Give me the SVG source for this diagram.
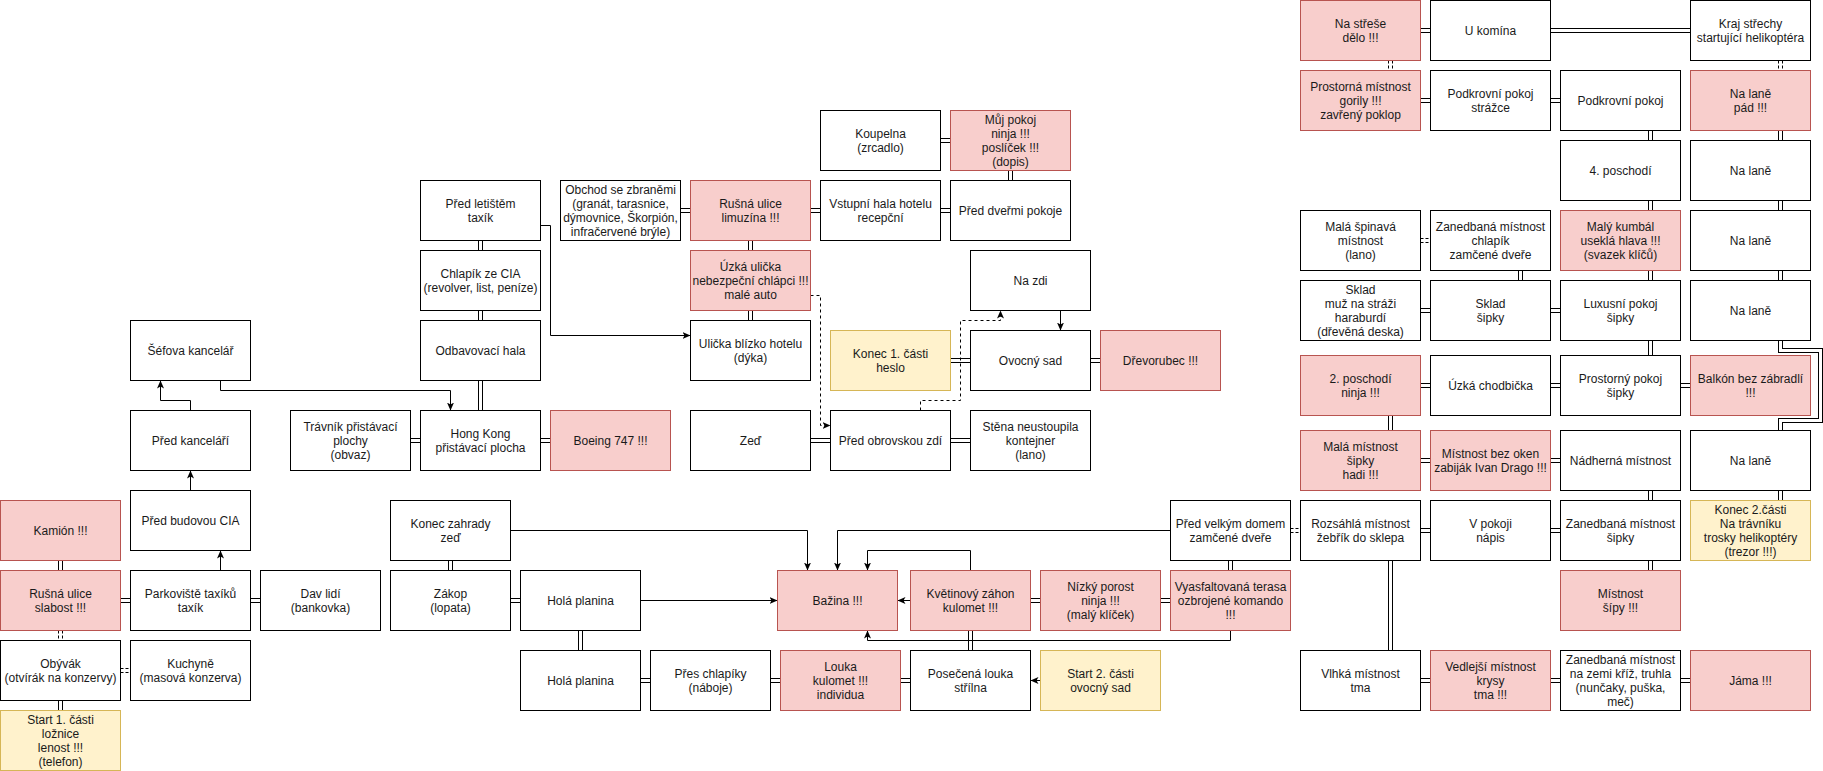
<svg xmlns="http://www.w3.org/2000/svg" xmlns:xlink="http://www.w3.org/1999/xlink" width="1823" height="771" viewBox="0 0 1823 771">
<style>
rect{stroke-width:1}
.n{fill:#fff;stroke:#000}
.r{fill:#f8cecc;stroke:#b85450}
.y{fill:#fff2cc;stroke:#d6b656}
text{font-family:"Liberation Sans",Arial,sans-serif;font-size:12px;text-anchor:middle;fill:#1a1a1a}
.a{fill:none;stroke:#000;stroke-width:1}
.ad{fill:none;stroke:#000;stroke-width:1;stroke-dasharray:3 3}
</style>
<defs>
<marker id="arr" markerUnits="userSpaceOnUse" markerWidth="10" markerHeight="10" refX="8" refY="4" orient="auto" viewBox="0 0 10 8">
<path d="M0,0.5 L8,4 L0,7.5 L2,4 Z" fill="#000"/>
</marker>
<g id="dbl" fill="none">
<path d="M60 560V570M120 600H130M250 600H260M60 700V710M410 440H420M540 440H550M480 240V250M480 310V320M480 380V410M680 210H690M810 210H820M940 210H950M940 140H950M1010 170V180M750 240V250M750 310V320M950 360H970M1090 360H1100M810 440H830M950 440H970"/>
<path d="M450 560V570M510 600H520M580 630V650M640 680H650M770 680H780M900 680H910M970 630V650M1030 600H1040M1160 600H1170M1230 560V570"/>
<path d="M1420 30H1430M1550 30H1690M1420 100H1430M1550 100H1560M1650 130V140M1650 200V210M1780 130V140M1780 200V210M1520 270V280M1650 270V280M1780 270V280M1420 310H1430M1550 310H1560M1650 340V355M1420 385H1430M1550 385H1560M1680 385H1690M1390 415V430M1420 460H1430M1550 460H1560M1650 490V500M1780 490V500M1420 530H1430M1550 530H1560M1650 560V570M1390 560V650M1420 680H1430M1550 680H1560M1680 680H1690"/>
<path d="M1780 340V350H1820V420H1780V430"/>
</g>
<g id="dbld" fill="none">
<path d="M60 630V640M120 670H130M1390 60V70M1780 60V70M1420 240H1430M1290 530H1300"/>
</g>
</defs>
<g transform="translate(0.5,0.5)">
<g id="connectors">
<use xlink:href="#dbl" href="#dbl" stroke="#000" stroke-width="5"/>
<use xlink:href="#dbl" href="#dbl" stroke="#fff" stroke-width="3"/>
<use xlink:href="#dbld" href="#dbld" stroke="#000" stroke-width="5" stroke-dasharray="3 2"/>
<use xlink:href="#dbld" href="#dbld" stroke="#fff" stroke-width="3"/>
<path class="a" marker-end="url(#arr)" d="M220 380V390H450V410"/>
<path class="a" marker-end="url(#arr)" d="M190 410V400H160V380"/>
<path class="a" marker-end="url(#arr)" d="M190 490V470"/>
<path class="a" marker-end="url(#arr)" d="M220 570V550"/>
<path class="a" marker-end="url(#arr)" d="M540 225H550V335H690"/>
<path class="a" marker-end="url(#arr)" d="M1060 310V330"/>
<path class="a" marker-end="url(#arr)" d="M510 530H807V570"/>
<path class="a" marker-end="url(#arr)" d="M640 600H777"/>
<path class="a" marker-end="url(#arr)" d="M1170 530H837V570"/>
<path class="a" marker-end="url(#arr)" d="M970 570V550H867V570"/>
<path class="a" marker-end="url(#arr)" d="M1230 630V640H867V630"/>
<path class="a" marker-end="url(#arr)" d="M910 600H897"/>
<path class="a" marker-end="url(#arr)" d="M1040 680H1030"/>
<path class="ad" marker-end="url(#arr)" d="M810 295H820V425H830"/>
<path class="ad" marker-end="url(#arr)" d="M920 410V400H960V320H1000V310"/>
</g>
<g id="kamion"><rect class="r" x="0" y="500" width="120" height="60"/><text x="60" y="534">Kamión !!!</text></g>
<g id="rusna1"><rect class="r" x="0" y="570" width="120" height="60"/><text x="60" y="597"><tspan x="60">Rušná ulice</tspan><tspan x="60" dy="14">slabost !!!</tspan></text></g>
<g id="obyvak"><rect class="n" x="0" y="640" width="120" height="60"/><text x="60" y="667"><tspan x="60">Obývák</tspan><tspan x="60" dy="14">(otvírák na konzervy)</tspan></text></g>
<g id="start1"><rect class="y" x="0" y="710" width="120" height="60"/><text x="60" y="723"><tspan x="60">Start 1. části</tspan><tspan x="60" dy="14">ložnice</tspan><tspan x="60" dy="14">lenost !!!</tspan><tspan x="60" dy="14">(telefon)</tspan></text></g>
<g id="kuchyne"><rect class="n" x="130" y="640" width="120" height="60"/><text x="190" y="667"><tspan x="190">Kuchyně</tspan><tspan x="190" dy="14">(masová konzerva)</tspan></text></g>
<g id="parkoviste"><rect class="n" x="130" y="570" width="120" height="60"/><text x="190" y="597"><tspan x="190">Parkoviště taxíků</tspan><tspan x="190" dy="14">taxík</tspan></text></g>
<g id="davlidi"><rect class="n" x="260" y="570" width="120" height="60"/><text x="320" y="597"><tspan x="320">Dav lidí</tspan><tspan x="320" dy="14">(bankovka)</tspan></text></g>
<g id="budovacia"><rect class="n" x="130" y="490" width="120" height="60"/><text x="190" y="524">Před budovou CIA</text></g>
<g id="predkancelari"><rect class="n" x="130" y="410" width="120" height="60"/><text x="190" y="444">Před kanceláří</text></g>
<g id="sefova"><rect class="n" x="130" y="320" width="120" height="60"/><text x="190" y="354">Šéfova kancelář</text></g>
<g id="travnik"><rect class="n" x="290" y="410" width="120" height="60"/><text x="350" y="430"><tspan x="350">Trávník přistávací</tspan><tspan x="350" dy="14">plochy</tspan><tspan x="350" dy="14">(obvaz)</tspan></text></g>
<g id="hongkong"><rect class="n" x="420" y="410" width="120" height="60"/><text x="480" y="437"><tspan x="480">Hong Kong</tspan><tspan x="480" dy="14">přistávací plocha</tspan></text></g>
<g id="boeing"><rect class="r" x="550" y="410" width="120" height="60"/><text x="610" y="444">Boeing 747 !!!</text></g>
<g id="odbavovaci"><rect class="n" x="420" y="320" width="120" height="60"/><text x="480" y="354">Odbavovací hala</text></g>
<g id="chlapikcia"><rect class="n" x="420" y="250" width="120" height="60"/><text x="480" y="277"><tspan x="480">Chlapík ze CIA</tspan><tspan x="480" dy="14">(revolver, list, peníze)</tspan></text></g>
<g id="letiste"><rect class="n" x="420" y="180" width="120" height="60"/><text x="480" y="207"><tspan x="480">Před letištěm</tspan><tspan x="480" dy="14">taxík</tspan></text></g>
<g id="obchod"><rect class="n" x="560" y="180" width="120" height="60"/><text x="620" y="193"><tspan x="620">Obchod se zbraněmi</tspan><tspan x="620" dy="14">(granát, tarasnice,</tspan><tspan x="620" dy="14">dýmovnice, Škorpión,</tspan><tspan x="620" dy="14">infračervené brýle)</tspan></text></g>
<g id="rusna2"><rect class="r" x="690" y="180" width="120" height="60"/><text x="750" y="207"><tspan x="750">Rušná ulice</tspan><tspan x="750" dy="14">limuzína !!!</tspan></text></g>
<g id="uzka"><rect class="r" x="690" y="250" width="120" height="60"/><text x="750" y="270"><tspan x="750">Úzká ulička</tspan><tspan x="750" dy="14">nebezpeční chlápci !!!</tspan><tspan x="750" dy="14">malé auto</tspan></text></g>
<g id="ulicka"><rect class="n" x="690" y="320" width="120" height="60"/><text x="750" y="347"><tspan x="750">Ulička blízko hotelu</tspan><tspan x="750" dy="14">(dýka)</tspan></text></g>
<g id="zed"><rect class="n" x="690" y="410" width="120" height="60"/><text x="750" y="444">Zeď</text></g>
<g id="vstupni"><rect class="n" x="820" y="180" width="120" height="60"/><text x="880" y="207"><tspan x="880">Vstupní hala hotelu</tspan><tspan x="880" dy="14">recepční</tspan></text></g>
<g id="koupelna"><rect class="n" x="820" y="110" width="120" height="60"/><text x="880" y="137"><tspan x="880">Koupelna</tspan><tspan x="880" dy="14">(zrcadlo)</tspan></text></g>
<g id="mujpokoj"><rect class="r" x="950" y="110" width="120" height="60"/><text x="1010" y="123"><tspan x="1010">Můj pokoj</tspan><tspan x="1010" dy="14">ninja !!!</tspan><tspan x="1010" dy="14">poslíček !!!</tspan><tspan x="1010" dy="14">(dopis)</tspan></text></g>
<g id="preddvermi"><rect class="n" x="950" y="180" width="120" height="60"/><text x="1010" y="214">Před dveřmi pokoje</text></g>
<g id="nazdi"><rect class="n" x="970" y="250" width="120" height="60"/><text x="1030" y="284">Na zdi</text></g>
<g id="konec1"><rect class="y" x="830" y="330" width="120" height="60"/><text x="890" y="357"><tspan x="890">Konec 1. části</tspan><tspan x="890" dy="14">heslo</tspan></text></g>
<g id="ovocny"><rect class="n" x="970" y="330" width="120" height="60"/><text x="1030" y="364">Ovocný sad</text></g>
<g id="drevorubec"><rect class="r" x="1100" y="330" width="120" height="60"/><text x="1160" y="364">Dřevorubec !!!</text></g>
<g id="predobrovskou"><rect class="n" x="830" y="410" width="120" height="60"/><text x="890" y="444">Před obrovskou zdí</text></g>
<g id="stena"><rect class="n" x="970" y="410" width="120" height="60"/><text x="1030" y="430"><tspan x="1030">Stěna neustoupila</tspan><tspan x="1030" dy="14">kontejner</tspan><tspan x="1030" dy="14">(lano)</tspan></text></g>
<g id="koneczahrady"><rect class="n" x="390" y="500" width="120" height="60"/><text x="450" y="527"><tspan x="450">Konec zahrady</tspan><tspan x="450" dy="14">zeď</tspan></text></g>
<g id="zakop"><rect class="n" x="390" y="570" width="120" height="60"/><text x="450" y="597"><tspan x="450">Zákop</tspan><tspan x="450" dy="14">(lopata)</tspan></text></g>
<g id="hola1"><rect class="n" x="520" y="570" width="120" height="60"/><text x="580" y="604">Holá planina</text></g>
<g id="hola2"><rect class="n" x="520" y="650" width="120" height="60"/><text x="580" y="684">Holá planina</text></g>
<g id="preschlapiky"><rect class="n" x="650" y="650" width="120" height="60"/><text x="710" y="677"><tspan x="710">Přes chlapíky</tspan><tspan x="710" dy="14">(náboje)</tspan></text></g>
<g id="louka"><rect class="r" x="780" y="650" width="120" height="60"/><text x="840" y="670"><tspan x="840">Louka</tspan><tspan x="840" dy="14">kulomet !!!</tspan><tspan x="840" dy="14">individua</tspan></text></g>
<g id="bazina"><rect class="r" x="777" y="570" width="120" height="60"/><text x="837" y="604">Bažina !!!</text></g>
<g id="kvetinovy"><rect class="r" x="910" y="570" width="120" height="60"/><text x="970" y="597"><tspan x="970">Květinový záhon</tspan><tspan x="970" dy="14">kulomet !!!</tspan></text></g>
<g id="nizky"><rect class="r" x="1040" y="570" width="120" height="60"/><text x="1100" y="590"><tspan x="1100">Nízký porost</tspan><tspan x="1100" dy="14">ninja !!!</tspan><tspan x="1100" dy="14">(malý klíček)</tspan></text></g>
<g id="vyasfaltovana"><rect class="r" x="1170" y="570" width="120" height="60"/><text x="1230" y="590"><tspan x="1230">Vyasfaltovaná terasa</tspan><tspan x="1230" dy="14">ozbrojené komando</tspan><tspan x="1230" dy="14">!!!</tspan></text></g>
<g id="predvelkym"><rect class="n" x="1170" y="500" width="120" height="60"/><text x="1230" y="527"><tspan x="1230">Před velkým domem</tspan><tspan x="1230" dy="14">zamčené dveře</tspan></text></g>
<g id="posecena"><rect class="n" x="910" y="650" width="120" height="60"/><text x="970" y="677"><tspan x="970">Posečená louka</tspan><tspan x="970" dy="14">střílna</tspan></text></g>
<g id="start2"><rect class="y" x="1040" y="650" width="120" height="60"/><text x="1100" y="677"><tspan x="1100">Start 2. části</tspan><tspan x="1100" dy="14">ovocný sad</tspan></text></g>
<g id="nastrese"><rect class="r" x="1300" y="0" width="120" height="60"/><text x="1360" y="27"><tspan x="1360">Na střeše</tspan><tspan x="1360" dy="14">dělo !!!</tspan></text></g>
<g id="ukomina"><rect class="n" x="1430" y="0" width="120" height="60"/><text x="1490" y="34">U komína</text></g>
<g id="krajstrechy"><rect class="n" x="1690" y="0" width="120" height="60"/><text x="1750" y="27"><tspan x="1750">Kraj střechy</tspan><tspan x="1750" dy="14">startující helikoptéra</tspan></text></g>
<g id="prostornagorily"><rect class="r" x="1300" y="70" width="120" height="60"/><text x="1360" y="90"><tspan x="1360">Prostorná místnost</tspan><tspan x="1360" dy="14">gorily !!!</tspan><tspan x="1360" dy="14">zavřený poklop</tspan></text></g>
<g id="podkrovnistrazce"><rect class="n" x="1430" y="70" width="120" height="60"/><text x="1490" y="97"><tspan x="1490">Podkrovní pokoj</tspan><tspan x="1490" dy="14">strážce</tspan></text></g>
<g id="podkrovni"><rect class="n" x="1560" y="70" width="120" height="60"/><text x="1620" y="104">Podkrovní pokoj</text></g>
<g id="nalanepad"><rect class="r" x="1690" y="70" width="120" height="60"/><text x="1750" y="97"><tspan x="1750">Na laně</tspan><tspan x="1750" dy="14">pád !!!</tspan></text></g>
<g id="poschodi4"><rect class="n" x="1560" y="140" width="120" height="60"/><text x="1620" y="174">4. poschodí</text></g>
<g id="nalane1"><rect class="n" x="1690" y="140" width="120" height="60"/><text x="1750" y="174">Na laně</text></g>
<g id="malaspinava"><rect class="n" x="1300" y="210" width="120" height="60"/><text x="1360" y="230"><tspan x="1360">Malá špinavá</tspan><tspan x="1360" dy="14">místnost</tspan><tspan x="1360" dy="14">(lano)</tspan></text></g>
<g id="zanedbanachlapik"><rect class="n" x="1430" y="210" width="120" height="60"/><text x="1490" y="230"><tspan x="1490">Zanedbaná místnost</tspan><tspan x="1490" dy="14">chlapík</tspan><tspan x="1490" dy="14">zamčené dveře</tspan></text></g>
<g id="kumbal"><rect class="r" x="1560" y="210" width="120" height="60"/><text x="1620" y="230"><tspan x="1620">Malý kumbál</tspan><tspan x="1620" dy="14">useklá hlava !!!</tspan><tspan x="1620" dy="14">(svazek klíčů)</tspan></text></g>
<g id="nalane2"><rect class="n" x="1690" y="210" width="120" height="60"/><text x="1750" y="244">Na laně</text></g>
<g id="skladmuz"><rect class="n" x="1300" y="280" width="120" height="60"/><text x="1360" y="293"><tspan x="1360">Sklad</tspan><tspan x="1360" dy="14">muž na stráži</tspan><tspan x="1360" dy="14">haraburdí</tspan><tspan x="1360" dy="14">(dřevěná deska)</tspan></text></g>
<g id="skladsipky"><rect class="n" x="1430" y="280" width="120" height="60"/><text x="1490" y="307"><tspan x="1490">Sklad</tspan><tspan x="1490" dy="14">šipky</tspan></text></g>
<g id="luxusni"><rect class="n" x="1560" y="280" width="120" height="60"/><text x="1620" y="307"><tspan x="1620">Luxusní pokoj</tspan><tspan x="1620" dy="14">šipky</tspan></text></g>
<g id="nalane3"><rect class="n" x="1690" y="280" width="120" height="60"/><text x="1750" y="314">Na laně</text></g>
<g id="poschodi2"><rect class="r" x="1300" y="355" width="120" height="60"/><text x="1360" y="382"><tspan x="1360">2. poschodí</tspan><tspan x="1360" dy="14">ninja !!!</tspan></text></g>
<g id="uzkachodbicka"><rect class="n" x="1430" y="355" width="120" height="60"/><text x="1490" y="389">Úzká chodbička</text></g>
<g id="prostornypokoj"><rect class="n" x="1560" y="355" width="120" height="60"/><text x="1620" y="382"><tspan x="1620">Prostorný pokoj</tspan><tspan x="1620" dy="14">šipky</tspan></text></g>
<g id="balkon"><rect class="r" x="1690" y="355" width="120" height="60"/><text x="1750" y="382"><tspan x="1750">Balkón bez zábradlí</tspan><tspan x="1750" dy="14">!!!</tspan></text></g>
<g id="malamistnost"><rect class="r" x="1300" y="430" width="120" height="60"/><text x="1360" y="450"><tspan x="1360">Malá místnost</tspan><tspan x="1360" dy="14">šipky</tspan><tspan x="1360" dy="14">hadi !!!</tspan></text></g>
<g id="bezoken"><rect class="r" x="1430" y="430" width="120" height="60"/><text x="1490" y="457"><tspan x="1490">Místnost bez oken</tspan><tspan x="1490" dy="14">zabiják Ivan Drago !!!</tspan></text></g>
<g id="nadherna"><rect class="n" x="1560" y="430" width="120" height="60"/><text x="1620" y="464">Nádherná místnost</text></g>
<g id="nalane4"><rect class="n" x="1690" y="430" width="120" height="60"/><text x="1750" y="464">Na laně</text></g>
<g id="rozsahla"><rect class="n" x="1300" y="500" width="120" height="60"/><text x="1360" y="527"><tspan x="1360">Rozsáhlá místnost</tspan><tspan x="1360" dy="14">žebřík do sklepa</tspan></text></g>
<g id="vpokoji"><rect class="n" x="1430" y="500" width="120" height="60"/><text x="1490" y="527"><tspan x="1490">V pokoji</tspan><tspan x="1490" dy="14">nápis</tspan></text></g>
<g id="zanedbanasipky"><rect class="n" x="1560" y="500" width="120" height="60"/><text x="1620" y="527"><tspan x="1620">Zanedbaná místnost</tspan><tspan x="1620" dy="14">šipky</tspan></text></g>
<g id="konec2"><rect class="y" x="1690" y="500" width="120" height="60"/><text x="1750" y="513"><tspan x="1750">Konec 2.části</tspan><tspan x="1750" dy="14">Na trávníku</tspan><tspan x="1750" dy="14">trosky helikoptéry</tspan><tspan x="1750" dy="14">(trezor !!!)</tspan></text></g>
<g id="mistnostsipy"><rect class="r" x="1560" y="570" width="120" height="60"/><text x="1620" y="597"><tspan x="1620">Místnost</tspan><tspan x="1620" dy="14">šípy !!!</tspan></text></g>
<g id="vlhka"><rect class="n" x="1300" y="650" width="120" height="60"/><text x="1360" y="677"><tspan x="1360">Vlhká místnost</tspan><tspan x="1360" dy="14">tma</tspan></text></g>
<g id="vedlejsi"><rect class="r" x="1430" y="650" width="120" height="60"/><text x="1490" y="670"><tspan x="1490">Vedlejší místnost</tspan><tspan x="1490" dy="14">krysy</tspan><tspan x="1490" dy="14">tma !!!</tspan></text></g>
<g id="zanedbanazemi"><rect class="n" x="1560" y="650" width="120" height="60"/><text x="1620" y="663"><tspan x="1620">Zanedbaná místnost</tspan><tspan x="1620" dy="14">na zemi kříž, truhla</tspan><tspan x="1620" dy="14">(nunčaky, puška,</tspan><tspan x="1620" dy="14">meč)</tspan></text></g>
<g id="jama"><rect class="r" x="1690" y="650" width="120" height="60"/><text x="1750" y="684">Jáma !!!</text></g>
</g>
</svg>
